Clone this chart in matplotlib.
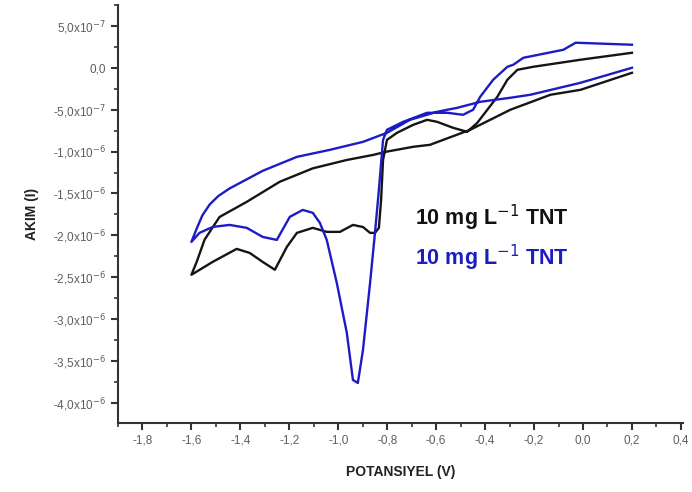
import matplotlib
matplotlib.use("Agg")
import matplotlib.pyplot as plt
from matplotlib.ticker import MultipleLocator, FixedLocator, FuncFormatter

plt.rcParams['font.family'] = ['Liberation Sans', 'DejaVu Sans']

# black curve (V, current in 1e-6 A): cathodic sweep then anodic sweep
black_v = [0.2, -0.010, -0.203, -0.268, -0.309, -0.350, -0.391, -0.432, -0.473,
           -0.531, -0.596, -0.637, -0.694, -0.760, -0.801, -0.817, -0.825, -0.834,
           -0.850, -0.870, -0.899, -0.940, -0.993, -1.047, -1.104, -1.169, -1.210,
           -1.259, -1.309, -1.362, -1.415, -1.513, -1.6,
           -1.579, -1.546, -1.485, -1.374, -1.239, -1.104, -0.965, -0.858, -0.801,
           -0.694, -0.625, -0.461, -0.297, -0.133, -0.010, 0.2]
black_i = [0.179, 0.096, 0.012, -0.024, -0.143, -0.346, -0.501, -0.657, -0.764,
           -0.716, -0.645, -0.621, -0.681, -0.776, -0.860, -1.10, -1.576, -1.91,
           -1.97, -1.97, -1.90, -1.875, -1.958, -1.958, -1.91, -1.97, -2.137,
           -2.41, -2.316, -2.209, -2.161, -2.316, -2.47,
           -2.32, -2.05, -1.78, -1.60, -1.36, -1.20, -1.10, -1.04, -1.00,
           -0.943, -0.919, -0.740, -0.501, -0.322, -0.263, -0.060]

# blue curve
blue_v = [0.2, -0.030, -0.080, -0.244, -0.285, -0.309, -0.367, -0.420, -0.449,
          -0.490, -0.555, -0.637, -0.735, -0.801, -0.817, -0.834, -0.850, -0.870,
          -0.899, -0.920, -0.940, -0.965, -1.006, -1.047, -1.075, -1.104, -1.145,
          -1.198, -1.251, -1.309, -1.374, -1.444, -1.513, -1.567, -1.6,
          -1.580, -1.555, -1.525, -1.490, -1.444, -1.309, -1.169, -1.034, -0.899,
          -0.801, -0.707, -0.596, -0.514, -0.420, -0.297, -0.215, -0.010, 0.2]
blue_i = [0.275, 0.299, 0.215, 0.119, 0.036, 0.012, -0.143, -0.346, -0.501,
          -0.561, -0.537, -0.537, -0.645, -0.740, -0.860, -1.457, -1.97, -2.567,
          -3.367, -3.761, -3.725, -3.164, -2.567, -2.054, -1.851, -1.731, -1.696,
          -1.779, -2.054, -2.018, -1.910, -1.875, -1.899, -1.970, -2.078,
          -1.930, -1.760, -1.630, -1.530, -1.440, -1.230, -1.063, -0.979, -0.884,
          -0.776, -0.621, -0.525, -0.478, -0.406, -0.358, -0.322, -0.179, 0.0]

x_ticks = [-1.8, -1.6, -1.4, -1.2, -1.0, -0.8, -0.6, -0.4, -0.2, 0.0, 0.2, 0.4]
y_ticks = [0.5e-6, 0.0, -0.5e-6, -1.0e-6, -1.5e-6, -2.0e-6, -2.5e-6,
           -3.0e-6, -3.5e-6, -4.0e-6]
y_labels = [r'5,0x10$^{-7}$', '0,0', r'-5,0x10$^{-7}$', r'-1,0x10$^{-6}$',
            r'-1,5x10$^{-6}$', r'-2,0x10$^{-6}$', r'-2,5x10$^{-6}$',
            r'-3,0x10$^{-6}$', r'-3,5x10$^{-6}$', r'-4,0x10$^{-6}$']
legend_text = r'10 mg L$^{-1}$ TNT'

fig = plt.figure(figsize=(6.92, 4.92), dpi=100)
ax = fig.add_axes([0.1705, 0.140, 0.817, 0.850])

ax.plot(black_v, [v * 1e-6 for v in black_i], color='#151515', lw=1.7)
ax.plot(blue_v, [v * 1e-6 for v in blue_i], color='#1c1cc4', lw=1.7)

ax.set_xlim(-1.9, 0.41)
ax.set_ylim(-4.24e-6, 0.75e-6)

for s in ['top', 'right']:
    ax.spines[s].set_visible(False)
for s in ['left', 'bottom']:
    ax.spines[s].set_linewidth(1.5)
    ax.spines[s].set_color('#333333')

ax.xaxis.set_major_locator(FixedLocator(x_ticks))
ax.xaxis.set_minor_locator(MultipleLocator(0.1))
ax.xaxis.set_major_formatter(FuncFormatter(lambda v, p: f'{v:.1f}'.replace('.', ',').replace('-0,0', '0,0')))
ax.yaxis.set_major_locator(FixedLocator(y_ticks))
ax.set_yticklabels(y_labels)
ax.yaxis.set_minor_locator(MultipleLocator(0.25e-6))

ax.tick_params(which='major', direction='out', length=5, width=1.5, color='#333333',
               labelsize=8.5, labelcolor='#5e5e5e')
ax.tick_params(which='minor', direction='out', length=3, width=1.2, color='#333333')

ax.set_xlabel('POTANSIYEL (V)', fontsize=10, fontweight='bold', color='#222222', labelpad=13)
ax.set_ylabel('AKIM (I)', fontsize=10, fontweight='bold', color='#222222', labelpad=10)

ax.text(-0.686, -1.79e-6, legend_text, color='#111111', fontsize=15.5,
        fontweight='bold', ha='left', va='center')
ax.text(-0.686, -2.27e-6, legend_text, color='#1c1cc4', fontsize=15.5,
        fontweight='bold', ha='left', va='center')

fig.savefig('out.png', dpi=100)
